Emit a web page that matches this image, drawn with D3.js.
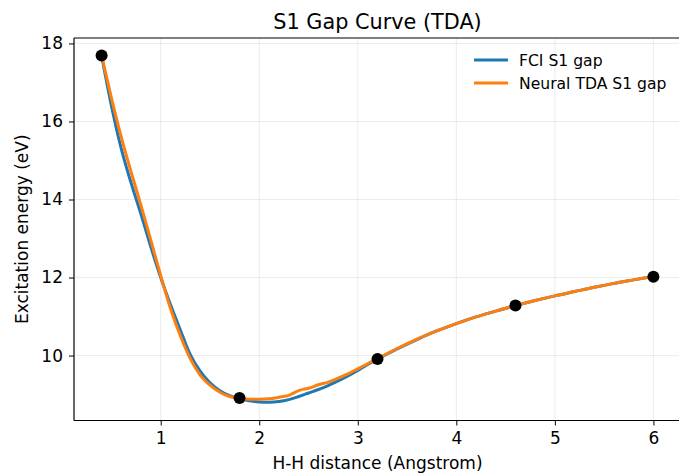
<!DOCTYPE html>
<html><head><meta charset="utf-8">
<script src="https://cdn.jsdelivr.net/npm/d3@7"></script>
<style>body{margin:0;background:#fff}svg{display:block}text{font-family:"DejaVu Sans",sans-serif;fill:#000}</style>
</head><body>
<svg id="c" width="679" height="473"></svg>
<script>
const fciX = [0.4,0.5,0.6,0.7,0.8,0.9,1.0,1.1,1.2,1.3,1.4,1.5,1.6,1.7,1.8,1.9,2.0,2.1,2.2,2.3,2.4,2.5,2.6,2.7,2.8,2.9,3.0,3.1,3.2,3.4,3.6,3.8,4.0,4.2,4.4,4.6,4.8,5.0,5.2,5.4,5.6,5.8,6.0];
const fciY = [17.69,16.4,15.3,14.42,13.62,12.78,12.0,11.3,10.65,10.02,9.6,9.3,9.1,8.97,8.89,8.84,8.81,8.80,8.82,8.87,8.95,9.04,9.13,9.23,9.35,9.48,9.62,9.77,9.91,10.17,10.41,10.63,10.82,10.99,11.14,11.28,11.41,11.53,11.64,11.75,11.85,11.94,12.03];
const tdaX = [0.4,0.5,0.6,0.7,0.8,0.9,1.0,1.1,1.2,1.3,1.4,1.5,1.6,1.7,1.8,1.9,2.0,2.1,2.2,2.3,2.4,2.45,2.5,2.6,2.7,2.8,2.9,3.0,3.1,3.2,3.4,3.6,3.8,4.0,4.2,4.4,4.6,4.8,5.0,5.2,5.4,5.6,5.8,6.0];
const tdaY = [17.69,16.6,15.6,14.7,13.85,12.95,12.05,11.2,10.5,9.92,9.5,9.24,9.06,8.95,8.91,8.88,8.88,8.89,8.93,8.98,9.10,9.14,9.16,9.25,9.32,9.42,9.53,9.66,9.79,9.92,10.18,10.42,10.63,10.82,10.99,11.14,11.28,11.41,11.53,11.64,11.75,11.85,11.94,12.03];
const markX = [0.4,1.8,3.2,4.6,6.0];
const markY = [17.69,8.91,9.91,11.28,12.02];
const xTicks = [1,2,3,4,5,6];
const yTicks = [10,12,14,16,18];
const seriesNames = ["FCI S1 gap","Neural TDA S1 gap"];
const colors = ["#1f77b4","#ff7f0e"];

const L=74, R=681, T=38, B=420.5;
const svg = d3.select("#c");
const x = d3.scaleLinear().domain([0.12,6.28]).range([L,R]);
const y = d3.scaleLinear().domain([8.335,18.14]).range([B,T]);

// grid
const g = svg.append("g");
g.selectAll(".gx").data(xTicks).join("line").attr("x1",d=>x(d)).attr("x2",d=>x(d)).attr("y1",T).attr("y2",B).attr("stroke","#b0b0b0").attr("stroke-opacity",0.3).attr("stroke-width",0.8);
g.selectAll(".gy").data(yTicks).join("line").attr("y1",d=>y(d)).attr("y2",d=>y(d)).attr("x1",L).attr("x2",R).attr("stroke","#b0b0b0").attr("stroke-opacity",0.3).attr("stroke-width",0.8);

const line = d3.line().curve(d3.curveMonotoneX);
const s1 = fciX.map((v,i)=>[x(v),y(fciY[i])]);
const s2 = tdaX.map((v,i)=>[x(v),y(tdaY[i])]);
svg.append("path").attr("d",line(s1)).attr("fill","none").attr("stroke",colors[0]).attr("stroke-width",3).attr("stroke-linecap","round");
svg.append("path").attr("d",line(s2)).attr("fill","none").attr("stroke",colors[1]).attr("stroke-width",3).attr("stroke-linecap","round");
svg.selectAll(".m").data(markX).join("circle").attr("cx",d=>x(d)).attr("cy",(d,i)=>y(markY[i])).attr("r",6).attr("fill","#000");

// axes
const xa = svg.append("g").attr("transform",`translate(0,${B})`).call(d3.axisBottom(x).tickValues(xTicks).tickSize(5).tickPadding(6).tickFormat(d3.format("d")));
const ya = svg.append("g").attr("transform",`translate(${L},0)`).call(d3.axisLeft(y).tickValues(yTicks).tickSize(5).tickPadding(6).tickFormat(d3.format("d")));
[xa,ya].forEach(a=>{a.select(".domain").remove();a.selectAll("line").attr("stroke","#000").attr("stroke-width",1);a.selectAll("text").style("font-size","17px").attr("font-family","DejaVu Sans");});
// spines
svg.append("line").attr("x1",L).attr("x2",L).attr("y1",T).attr("y2",B).attr("stroke","#000").attr("stroke-width",1.2);
svg.append("line").attr("x1",L).attr("x2",R).attr("y1",B).attr("y2",B).attr("stroke","#000").attr("stroke-width",1.2);
svg.append("line").attr("x1",L).attr("x2",R).attr("y1",T).attr("y2",T).attr("stroke","#000").attr("stroke-width",1.2);

// title & labels
svg.append("text").attr("x",(L+R)/2).attr("y",29).attr("text-anchor","middle").style("font-size","20.8px").text("S1 Gap Curve (TDA)");
svg.append("text").attr("x",(L+R)/2).attr("y",469).attr("text-anchor","middle").style("font-size","17px").text("H-H distance (Angstrom)");
svg.append("text").attr("transform",`translate(28,${(T+B)/2}) rotate(-90)`).attr("text-anchor","middle").style("font-size","17px").text("Excitation energy (eV)");

// legend
const lg = svg.append("g");
seriesNames.forEach((n,i)=>{
  const yy = 60 + i*23;
  lg.append("line").attr("x1",474).attr("x2",508).attr("y1",yy).attr("y2",yy).attr("stroke",colors[i]).attr("stroke-width",3);
  lg.append("text").attr("x",519).attr("y",yy+5.5).style("font-size","15.6px").text(n);
});
</script>
</body></html>
